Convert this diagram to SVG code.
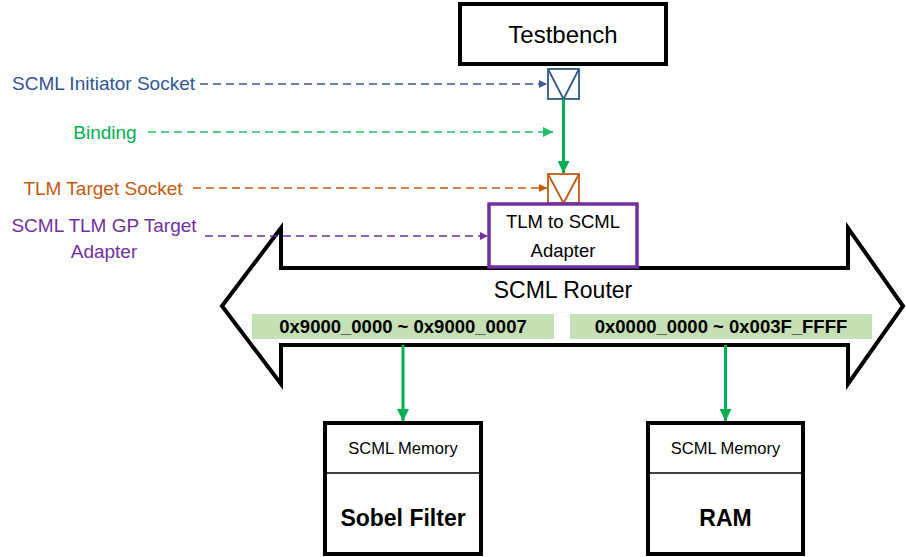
<svg xmlns="http://www.w3.org/2000/svg" width="906" height="557" viewBox="0 0 906 557">
<defs>
<style>
text{font-family:"Liberation Sans",Arial,sans-serif;}
.box{fill:#fff;stroke:#000;stroke-width:4;}
.dash{fill:none;stroke-width:1.5;stroke-dasharray:8 5;}
.green{stroke:#00b050;stroke-width:3;fill:none;}
.addr{fill:#c5e0b4;}
.addrt{font-size:18.5px;font-weight:bold;text-anchor:middle;fill:#000;}
.lbl{font-size:19px;}
</style>
<marker id="aBlue" viewBox="0 0 10 10" refX="10" refY="5" markerWidth="8" markerHeight="8" markerUnits="userSpaceOnUse" orient="auto"><path d="M0,0L10,5L0,10z" fill="#3a5a96"/></marker>
<marker id="aGreenL" viewBox="0 0 10 10" refX="10" refY="5" markerWidth="10" markerHeight="10" markerUnits="userSpaceOnUse" orient="auto"><path d="M0,0L10,5L0,10z" fill="#21bf63"/></marker>
<marker id="aOrange" viewBox="0 0 10 10" refX="10" refY="5" markerWidth="8" markerHeight="8" markerUnits="userSpaceOnUse" orient="auto"><path d="M0,0L10,5L0,10z" fill="#c55a11"/></marker>
<marker id="aPurple" viewBox="0 0 10 10" refX="10" refY="5" markerWidth="8" markerHeight="8" markerUnits="userSpaceOnUse" orient="auto"><path d="M0,0L10,5L0,10z" fill="#7030a0"/></marker>
<marker id="aGreen" viewBox="0 0 10 10" refX="10" refY="5" markerWidth="12" markerHeight="12" markerUnits="userSpaceOnUse" orient="auto"><path d="M0,0L10,5L0,10z" fill="#00b050"/></marker>
</defs>
<rect width="906" height="557" fill="#fff"/>

<g id="router">
<path d="M222,306 L281,228 L281,268 L848,268 L848,228 L903,306 L848,384 L848,345 L281,345 L281,384 Z" fill="#fff" stroke="#000" stroke-width="4" stroke-linejoin="miter"/>
<text x="563" y="298" font-size="23" text-anchor="middle">SCML Router</text>
<rect class="addr" x="252" y="314" width="302" height="25"/>
<text class="addrt" x="403" y="333">0x9000_0000 ~ 0x9000_0007</text>
<rect class="addr" x="570" y="314" width="302" height="25"/>
<text class="addrt" x="721" y="333">0x0000_0000 ~ 0x003F_FFFF</text>
</g>

<g id="testbench">
<rect class="box" x="460" y="4" width="206" height="60"/>
<text x="563" y="43" font-size="24" text-anchor="middle">Testbench</text>
</g>

<g id="initiator-socket">
<rect x="548" y="69" width="31" height="30" fill="#fff" stroke="#2e5a88" stroke-width="1.8"/>
<path d="M548,69 L563.5,99 L579,69" fill="none" stroke="#2e5a88" stroke-width="1.8"/>
</g>

<g id="target-socket">
<rect x="548" y="174" width="31" height="29" fill="#fff" stroke="#c55a11" stroke-width="1.8"/>
<path d="M548,174 L563.5,203 L579,174" fill="none" stroke="#c55a11" stroke-width="1.8"/>
</g>

<g id="adapter">
<rect x="489" y="204" width="148" height="63" fill="#fff" stroke="#7030a0" stroke-width="3.5"/>
<text x="563" y="228" font-size="18.5" text-anchor="middle">TLM to SCML</text>
<text x="563" y="257" font-size="18.5" text-anchor="middle">Adapter</text>
</g>

<g id="sobel">
<rect class="box" x="325" y="423" width="156" height="131"/>
<line x1="325" y1="473" x2="481" y2="473" stroke="#000" stroke-width="1.5"/>
<text x="403" y="454" font-size="16.5" text-anchor="middle">SCML Memory</text>
<text x="403" y="526" font-size="23" font-weight="bold" text-anchor="middle">Sobel Filter</text>
</g>

<g id="ram">
<rect class="box" x="648" y="423" width="155" height="131"/>
<line x1="648" y1="473" x2="803" y2="473" stroke="#000" stroke-width="1.5"/>
<text x="725.5" y="454" font-size="16.5" text-anchor="middle">SCML Memory</text>
<text x="725.5" y="526" font-size="23" font-weight="bold" text-anchor="middle">RAM</text>
</g>

<g id="labels">
<text class="lbl" x="12" y="90" fill="#2f5597">SCML Initiator Socket</text>
<text class="lbl" x="105" y="139" fill="#00b050" text-anchor="middle">Binding</text>
<text class="lbl" x="103" y="195" fill="#c55a11" text-anchor="middle">TLM Target Socket</text>
<text class="lbl" x="104" y="232" fill="#7030a0" text-anchor="middle">SCML TLM GP Target</text>
<text class="lbl" x="104" y="258" fill="#7030a0" text-anchor="middle">Adapter</text>
</g>

<g id="connectors">
<line class="dash" x1="200" y1="84" x2="547" y2="84" stroke="#3a5a96" marker-end="url(#aBlue)"/>
<line class="dash" x1="148" y1="132" x2="553" y2="132" stroke="#21bf63" marker-end="url(#aGreenL)"/>
<line class="dash" x1="193" y1="188" x2="547" y2="188" stroke="#c55a11" marker-end="url(#aOrange)"/>
<line class="dash" x1="205" y1="236" x2="488" y2="236" stroke="#7030a0" marker-end="url(#aPurple)"/>
<line class="green" x1="563.5" y1="99" x2="563.5" y2="173" marker-end="url(#aGreen)"/>
<line class="green" x1="403" y1="345" x2="403" y2="421" marker-end="url(#aGreen)"/>
<line class="green" x1="725.5" y1="345" x2="725.5" y2="421" marker-end="url(#aGreen)"/>
</g>
</svg>
